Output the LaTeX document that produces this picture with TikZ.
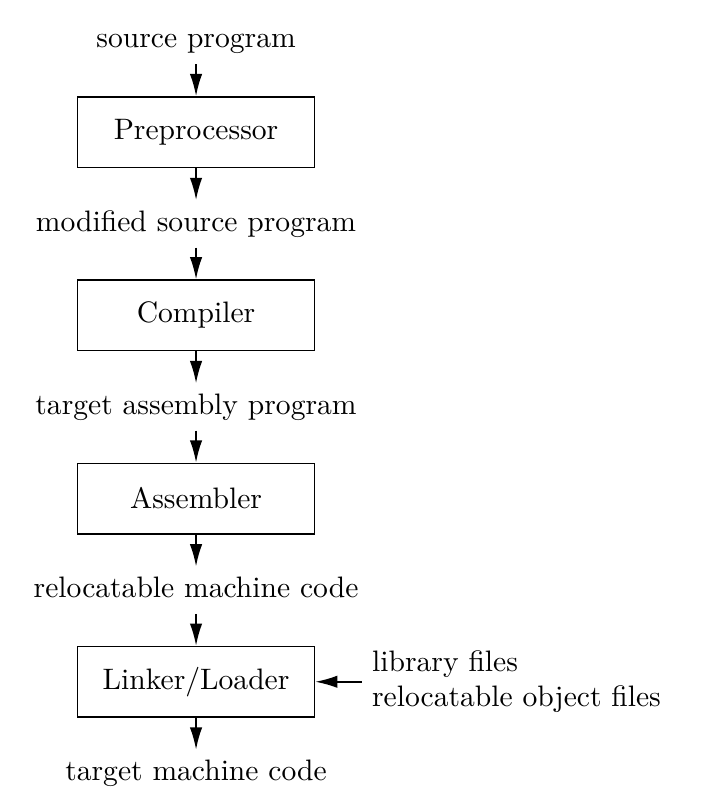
\documentclass[tikz,border=0pt]{standalone}
\usetikzlibrary{positioning, arrows.meta}
\begin{document}
\begin{tikzpicture}[
        node distance=10.75pt,%
        box/.style = {draw, black, line width=0.55pt, minimum height=23.8pt, minimum width=80pt, inner sep=2pt},%
        lbl/.style = {inner sep=3.33pt, text height=7pt, text depth=2pt},%
        arrow/.style = {-{Latex[length=7.5pt, width=4.2pt]}, line width=0.55pt}%
    ]%
        \useasboundingbox (-66.25pt,13.7pt) rectangle (170.7pt,-253.6pt);
        \node[lbl] (src) {source program};
        \node[box, below=of src] (pre) {Preprocessor};
        \node[lbl, below=of pre] (mod) {modified source program};
        \node[box, below=of mod] (comp) {Compiler};
        \node[lbl, below=of comp] (tap) {target assembly program};
        \node[box, below=of tap] (asm) {Assembler};
        \node[lbl, below=of asm] (rmc) {relocatable machine code};
        \node[box, below=of rmc] (link) {Linker/Loader};
        \node[lbl, below=of link] (tmc) {target machine code};
        \node[align=left, right=15.7pt of link] (lib) {library files\\relocatable object files};
        \draw[arrow] (src) -- (pre);
        \draw[arrow] (pre) -- (mod);
        \draw[arrow] (mod) -- (comp);
        \draw[arrow] (comp) -- (tap);
        \draw[arrow] (tap) -- (asm);
        \draw[arrow] (asm) -- (rmc);
        \draw[arrow] (rmc) -- (link);
        \draw[arrow] (link) -- (tmc);
        \draw[arrow] (lib) -- (link);
    \end{tikzpicture}
\end{document}
